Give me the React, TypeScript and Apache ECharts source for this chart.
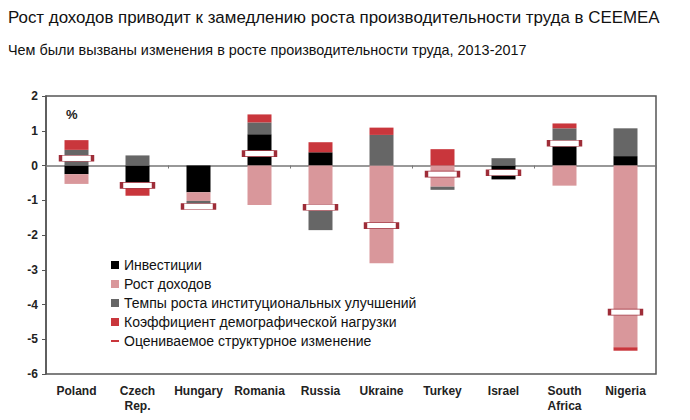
import React, { useEffect, useRef } from "react";
import * as echarts from "echarts";

const categories = ["Poland", "Czech\nRep.", "Hungary", "Romania", "Russia", "Ukraine", "Turkey", "Israel", "South\nAfrica", "Nigeria"];
const investment = [-0.25, -0.55, -0.77, 0.9, 0.38, 0, 0, -0.4, 0.55, 0.27];
const incomeGrowth = [-0.28, 0, -0.25, -1.14, -1.3, -2.81, -0.61, 0, -0.58, -5.23];
const institutional = [0.45, 0.29, -0.09, 0.34, -0.56, 0.88, -0.09, 0.21, 0.52, 0.8];
const demographic = [0.28, -0.32, -0.07, 0.23, 0.29, 0.21, 0.47, 0, 0.14, -0.1];
const structural = [0.21, -0.57, -1.18, 0.34, -1.2, -1.73, -0.25, -0.21, 0.64, -4.22];

const seriesNames = [
  "Инвестиции",
  "Рост доходов",
  "Темпы роста институциональных улучшений",
  "Коэффициент демографической нагрузки",
  "Оцениваемое структурное изменение",
];
const colors = ["#000000", "#d9979b", "#666666", "#c9363c"];

export default function App() {
  const ref = useRef<HTMLDivElement>(null);
  useEffect(() => {
    const chart = echarts.init(ref.current!, null, { renderer: "svg" });
    const font = "'Liberation Sans', Arial, sans-serif";
    const barSeries = [investment, incomeGrowth, institutional, demographic].map((d, i) => ({
      name: seriesNames[i],
      type: "bar",
      stack: "total",
      barWidth: 24,
      data: d,
      itemStyle: { color: colors[i] },
      xAxisIndex: 0,
    }));
    chart.setOption({
      animation: false,
      textStyle: { fontFamily: font },
      title: [
        {
          text: "Рост доходов приводит к замедлению роста производительности труда в CEEMEA",
          left: 8,
          top: 9,
          padding: 0,
          textStyle: { fontSize: 16.9, fontWeight: "normal", color: "#111", fontFamily: font },
        },
        {
          text: "Чем были вызваны изменения в росте производительности труда, 2013-2017",
          left: 8,
          top: 43,
          padding: 0,
          textStyle: { fontSize: 14.4, fontWeight: "normal", color: "#111", fontFamily: font },
        },
      ],
      legend: {
        orient: "vertical",
        left: 111,
        top: 257,
        padding: 0,
        itemWidth: 8,
        itemHeight: 8,
        itemGap: 3,
        textStyle: { fontSize: 14, color: "#111", fontFamily: font, lineHeight: 16 },
        data: [
          { name: seriesNames[0], icon: "rect" },
          { name: seriesNames[1], icon: "rect" },
          { name: seriesNames[2], icon: "rect" },
          { name: seriesNames[3], icon: "rect" },
          { name: seriesNames[4], icon: "path://M0,0h8v2h-8z", itemStyle: { color: "#c9363c", borderWidth: 0 } },
        ],
      },
      graphic: [
        {
          type: "text",
          left: 66,
          top: 108,
          style: { text: "%", fontSize: 13, fontWeight: "bold", fill: "#222", fontFamily: font },
        },
      ],
      grid: {
        left: 46,
        right: 34,
        top: 96,
        bottom: 46,
        show: true,
        borderColor: "#555",
        borderWidth: 1.5,
        backgroundColor: "transparent",
      },
      xAxis: [
        {
          type: "category",
          data: categories,
          position: "bottom",
          axisLine: { show: false, onZero: false },
          axisTick: { show: false },
          axisLabel: { fontSize: 12, fontWeight: "bold", color: "#222", margin: 9, lineHeight: 15, interval: 0 },
        },
        {
          type: "category",
          data: categories,
          position: "bottom",
          axisLine: { show: true, onZero: true, lineStyle: { color: "#777", width: 1.5 } },
          axisTick: { show: true, length: 3, lineStyle: { color: "#777" } },
          axisLabel: { show: false },
        },
      ],
      yAxis: {
        type: "value",
        min: -6,
        max: 2,
        interval: 1,
        axisLine: { show: true, lineStyle: { color: "#555", width: 1.5 } },
        axisTick: { show: true, length: 4, lineStyle: { color: "#555" } },
        splitLine: { show: false },
        axisLabel: { fontSize: 12, fontWeight: "bold", color: "#222", margin: 8 },
      },
      series: [
        ...barSeries,
        {
          name: seriesNames[4],
          type: "scatter",
          xAxisIndex: 0,
          symbol: "rect",
          symbolSize: [32, 6],
          data: structural,
          z: 10,
          itemStyle: { color: "#ffffff", borderColor: "#9e2d38", borderWidth: 1.5, opacity: 1 },
        },
      ],
    });
    return () => chart.dispose();
  }, []);
  return <div ref={ref} style={{ width: 690, height: 420, marginLeft: -8, marginTop: -8 }} />;
}
